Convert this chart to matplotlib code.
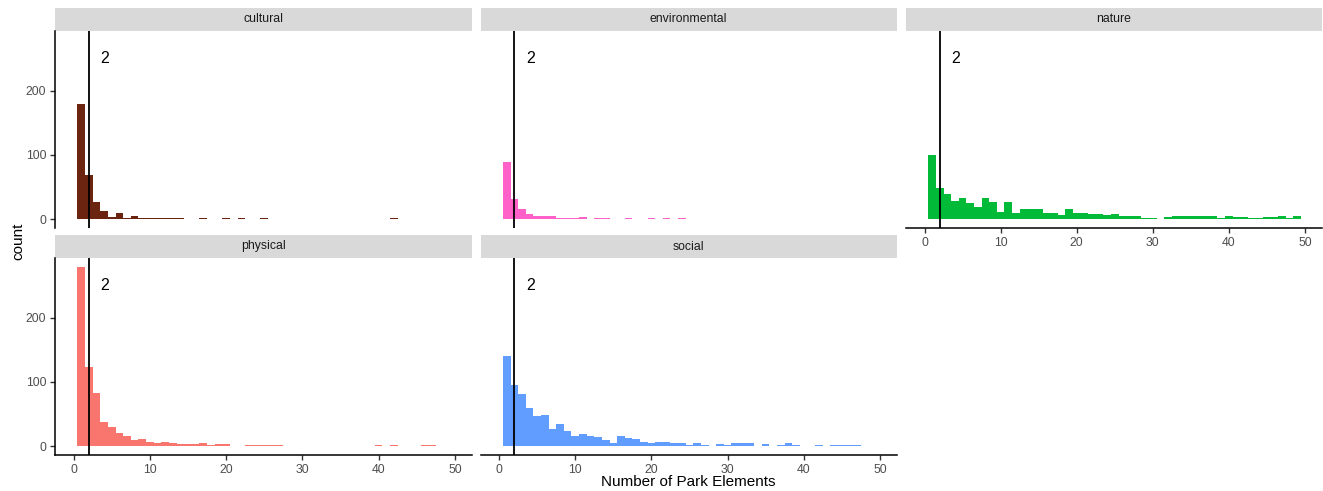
import numpy as np
import matplotlib
matplotlib.use("Agg")
import matplotlib.pyplot as plt

plt.rcParams['font.family'] = ['Liberation Sans', 'DejaVu Sans']

# ---------------- data ----------------
facets = ["cultural", "environmental", "nature", "physical", "social"]
bin_centers = list(range(1, 50))  # Number of Park Elements (binwidth 1)

cultural = [180, 68, 27, 13, 3, 10, 1, 4, 1, 1, 2, 2, 1, 1, 0, 0, 2, 0, 0, 1,
            0, 2, 0, 0, 1, 0, 0, 0, 0, 0, 0, 0, 0, 0, 0, 0, 0, 0, 0, 0,
            0, 1, 0, 0, 0, 0, 0, 0, 0]
environmental = [89, 31, 15, 8, 5, 5, 4, 2, 1, 1, 3, 0, 1, 1, 0, 0, 1, 0, 0, 1,
                 0, 1, 0, 1, 0, 0, 0, 0, 0, 0, 0, 0, 0, 0, 0, 0, 0, 0, 0, 0,
                 0, 0, 0, 0, 0, 0, 0, 0, 0]
nature = [99, 48, 39, 28, 33, 25, 18, 32, 27, 11, 26, 10, 16, 15, 16, 9, 9, 7, 15, 9,
          10, 8, 8, 7, 8, 4, 4, 5, 2, 1, 0, 3, 5, 4, 4, 4, 4, 4, 1, 5,
          3, 3, 2, 1, 3, 3, 4, 2, 4]
physical = [279, 123, 82, 37, 29, 20, 15, 10, 11, 6, 4, 7, 5, 3, 3, 3, 4, 2, 3, 3,
            0, 0, 1, 1, 2, 2, 1, 0, 0, 0, 0, 0, 0, 0, 0, 0, 0, 0, 0, 1,
            0, 1, 0, 0, 0, 1, 1, 0, 0]
social = [141, 95, 81, 60, 46, 48, 27, 34, 24, 16, 19, 15, 14, 10, 5, 15, 12, 11, 6, 5,
          6, 7, 4, 4, 2, 4, 2, 0, 3, 1, 4, 5, 4, 0, 3, 0, 1, 4, 2, 0,
          0, 1, 0, 1, 1, 2, 2, 0, 0]

counts = {"cultural": cultural, "environmental": environmental, "nature": nature,
          "physical": physical, "social": social}
colors = {"cultural": "#6B2410", "environmental": "#FF61C9", "nature": "#00BA38",
          "physical": "#F8766D", "social": "#619CFF"}

vline_x = 2
vline_label = "2"
label_pos = (4.1, 250)

x_ticks = [0, 10, 20, 30, 40, 50]
y_ticks = [0, 100, 200]
x_label = "Number of Park Elements"
y_label = "count"

# ---------------- layout ----------------
W, H = 1323, 491
fig = plt.figure(figsize=(W / 100, H / 100), dpi=100)


def rect(x0, y0, x1, y1):
    return [x0 / W, 1 - y1 / H, (x1 - x0) / W, (y1 - y0) / H]


cols = [(55, 472), (480.5, 897), (906, 1322)]
rows = [((8, 31), (31, 228)), ((235, 258), (258, 455))]
positions = {"cultural": (0, 0), "environmental": (0, 1), "nature": (0, 2),
             "physical": (1, 0), "social": (1, 1)}

xlim = (-2.45, 52.25)
ylim = (-14, 293)

for name in facets:
    r, c = positions[name]
    (sy0, sy1), (py0, py1) = rows[r]
    cx0, cx1 = cols[c]

    # strip
    sax = fig.add_axes(rect(cx0, sy0, cx1, sy1))
    sax.set_facecolor("#D9D9D9")
    for s in sax.spines.values():
        s.set_visible(False)
    sax.set_xticks([])
    sax.set_yticks([])
    sax.text(0.5, 0.5, name, ha="center", va="center", fontsize=8.8,
             color="#1A1A1A", transform=sax.transAxes)

    ax = fig.add_axes(rect(cx0, py0, cx1, py1))
    ax.bar(bin_centers, counts[name], width=1.0, color=colors[name],
           edgecolor="none", linewidth=0)
    ax.axvline(vline_x, color="black", linewidth=1.3)
    ax.text(label_pos[0], label_pos[1], vline_label, ha="center", va="center",
            fontsize=11.5, color="black")
    ax.set_xlim(*xlim)
    ax.set_ylim(*ylim)

    ax.spines["top"].set_visible(False)
    ax.spines["right"].set_visible(False)

    show_left = (c == 0)
    show_bottom = (r == 1) or name == "nature"

    ax.spines["left"].set_visible(show_left)
    ax.spines["bottom"].set_visible(show_bottom)
    for s in ("left", "bottom"):
        ax.spines[s].set_linewidth(1.1)
        ax.spines[s].set_color("black")

    ax.tick_params(axis="both", direction="out", length=3.8, width=1.0,
                   color="#333333", labelsize=8.8, labelcolor="#4D4D4D", pad=2.5)
    if show_left:
        ax.set_yticks(y_ticks)
    else:
        ax.set_yticks([])
    if show_bottom:
        ax.set_xticks(x_ticks)
    else:
        ax.set_xticks([])

fig.text(688 / W, 1 - 482 / H, x_label, ha="center", va="center", fontsize=11,
         color="black")
fig.text(18 / W, 1 - 241 / H, y_label, ha="center", va="center", fontsize=11,
         rotation=90, color="black")

fig.savefig("out.png", dpi=100, facecolor="white")
